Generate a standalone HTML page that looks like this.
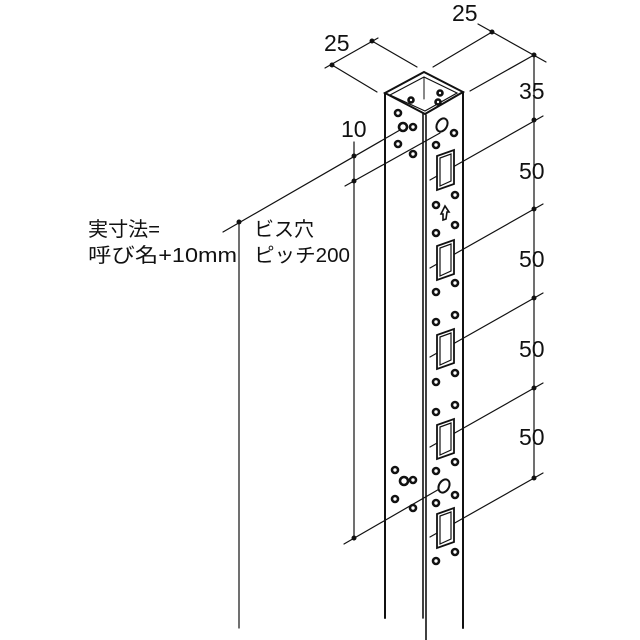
<!DOCTYPE html>
<html><head><meta charset="utf-8"><style>
html,body{margin:0;padding:0;background:#fff;}
svg{display:block}
text{font-family:"Liberation Sans","Noto Sans CJK JP",sans-serif;fill:#111;}
</style></head><body>
<svg width="640" height="640" viewBox="0 0 640 640" xmlns="http://www.w3.org/2000/svg">
<g stroke="#111" fill="none" stroke-linecap="round">
<line x1="385" y1="93" x2="385" y2="618" stroke-width="2"/>
<line x1="423" y1="113" x2="423" y2="618" stroke-width="1.6"/>
<line x1="426" y1="115" x2="426" y2="640" stroke-width="1.6"/>
<line x1="463" y1="92" x2="463" y2="628" stroke-width="2"/>
<path d="M385 93 L424 72 L463 92 L425 114 Z" stroke-width="2"/>
<path d="M390 95 L424 77 L457 93 L425 111 Z" stroke-width="1.2"/>
<line x1="424" y1="77" x2="424" y2="99" stroke-width="1"/>
<line x1="325" y1="68" x2="378" y2="38" stroke-width="1.2"/>
<line x1="332" y1="65" x2="377" y2="92" stroke-width="1.2"/>
<line x1="372" y1="41" x2="417" y2="67" stroke-width="1.2"/>
<line x1="478" y1="24" x2="546" y2="62" stroke-width="1.2"/>
<line x1="492" y1="32" x2="433" y2="67" stroke-width="1.2"/>
<line x1="534" y1="55" x2="470" y2="91" stroke-width="1.2"/>
<line x1="534" y1="55" x2="534" y2="478" stroke-width="1.2"/>
<line x1="543" y1="116" x2="430" y2="180" stroke-width="1.2"/>
<line x1="543" y1="204" x2="430" y2="268" stroke-width="1.2"/>
<line x1="543" y1="293" x2="430" y2="357" stroke-width="1.2"/>
<line x1="543" y1="383" x2="430" y2="447" stroke-width="1.2"/>
<line x1="543" y1="473" x2="430" y2="537" stroke-width="1.2"/>
<line x1="354" y1="142" x2="354" y2="540" stroke-width="1.2"/>
<line x1="223" y1="232" x2="400" y2="130" stroke-width="1.2"/>
<line x1="345" y1="186" x2="440" y2="133" stroke-width="1.2"/>
<line x1="344" y1="544" x2="448" y2="484" stroke-width="1.2"/>
<line x1="239" y1="222" x2="239" y2="628" stroke-width="1.2"/>
</g>
<g fill="#111">
<circle cx="332" cy="65" r="2.5"/><circle cx="372" cy="41" r="2.5"/>
<circle cx="492" cy="32" r="2.5"/><circle cx="534" cy="55" r="2.5"/>
<circle cx="534" cy="120" r="2.5"/><circle cx="534" cy="209" r="2.5"/>
<circle cx="534" cy="298" r="2.5"/><circle cx="534" cy="388" r="2.5"/>
<circle cx="534" cy="478" r="2.5"/>
<circle cx="354" cy="156" r="2.5"/><circle cx="354" cy="181" r="2.5"/>
<circle cx="354" cy="538" r="2.5"/><circle cx="239" cy="222" r="2.5"/>
</g>
<g stroke="#111" stroke-width="2.6" fill="#fff">
<circle cx="398" cy="113" r="3"/><circle cx="413" cy="127" r="3"/><circle cx="398" cy="144" r="3"/><circle cx="413" cy="154" r="3"/>
<circle cx="403" cy="127" r="4"/>
<circle cx="411" cy="100" r="2.5"/><circle cx="440" cy="93" r="2.5"/><circle cx="438" cy="102" r="2.5"/>
<circle cx="454" cy="133" r="3"/><circle cx="436" cy="145" r="3"/>
<circle cx="395" cy="470" r="3"/><circle cx="413" cy="480" r="3"/><circle cx="395" cy="499" r="3"/><circle cx="413" cy="508" r="3"/>
<circle cx="404" cy="481" r="4"/>
</g>
<g stroke="#111" stroke-width="2" fill="#fff">
<ellipse cx="442" cy="125" rx="5" ry="7" transform="rotate(30 442 125)"/>
<ellipse cx="444" cy="486" rx="5" ry="7" transform="rotate(30 444 486)"/>
<path d="M441 214 L445 206 L449 212 L447 212 L446 219 L443 220 L443 214 Z" stroke-width="1.6"/>
</g>
<g stroke="#111" stroke-width="1.8" fill="#fff">
<path d="M437 156 L454 150 L454 184 L437 190 Z"/><path d="M440 158 L451 154 L451 181 L440 186 Z" stroke-width="1.2"/>
<path d="M437 246 L454 240 L454 274 L437 280 Z"/><path d="M440 248 L451 244 L451 271 L440 276 Z" stroke-width="1.2"/>
<path d="M437 335 L454 329 L454 363 L437 369 Z"/><path d="M440 337 L451 333 L451 360 L440 365 Z" stroke-width="1.2"/>
<path d="M437 425 L454 419 L454 453 L437 459 Z"/><path d="M440 427 L451 423 L451 450 L440 455 Z" stroke-width="1.2"/>
<path d="M437 514 L454 508 L454 542 L437 548 Z"/><path d="M440 516 L451 512 L451 539 L440 544 Z" stroke-width="1.2"/>
</g>
<g stroke="#111" stroke-width="2.6" fill="#fff">
<circle cx="455" cy="195" r="3"/><circle cx="436" cy="205" r="3"/><circle cx="455" cy="225" r="3"/><circle cx="436" cy="233" r="3"/>
<circle cx="455" cy="283" r="3"/><circle cx="436" cy="292" r="3"/><circle cx="455" cy="315" r="3"/><circle cx="436" cy="322" r="3"/>
<circle cx="455" cy="373" r="3"/><circle cx="436" cy="382" r="3"/><circle cx="455" cy="405" r="3"/><circle cx="436" cy="412" r="3"/>
<circle cx="455" cy="462" r="3"/><circle cx="436" cy="471" r="3"/><circle cx="455" cy="495" r="3"/><circle cx="436" cy="503" r="3"/>
<circle cx="455" cy="552" r="3"/><circle cx="436" cy="561" r="3"/>
</g>
<g font-size="23">
<text x="324" y="51">25</text>
<text x="452" y="21">25</text>
<text x="519" y="99">35</text>
<text x="519" y="179">50</text>
<text x="519" y="267">50</text>
<text x="519" y="357">50</text>
<text x="519" y="445">50</text>
<text x="341" y="137">10</text>
</g>
<g font-size="20">
<text x="88" y="236" textLength="72" lengthAdjust="spacingAndGlyphs">実寸法=</text>
<text x="88" y="262" textLength="149" lengthAdjust="spacingAndGlyphs">呼び名+10mm</text>
<text x="254" y="236" textLength="60" lengthAdjust="spacingAndGlyphs">ビス穴</text>
<text x="254" y="262" textLength="96" lengthAdjust="spacingAndGlyphs">ピッチ200</text>
</g>
</svg>
</body></html>
